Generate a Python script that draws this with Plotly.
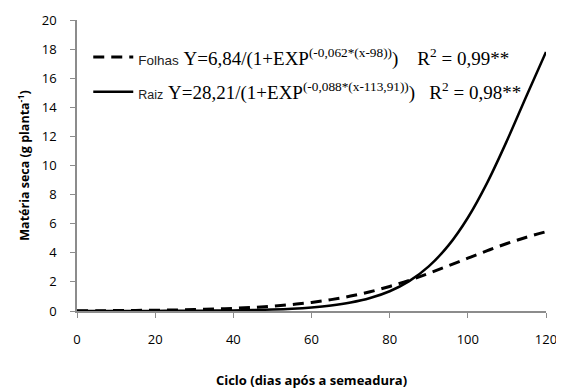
import plotly.graph_objects as go

dias = [0, 5, 10, 15, 20, 25, 30, 35, 40, 45, 50, 55, 60, 65, 70, 75, 80, 85, 90, 95, 100, 105, 110, 115, 120]
folhas = [0.016, 0.021, 0.029, 0.040, 0.054, 0.073, 0.100, 0.135, 0.183, 0.247, 0.332, 0.445, 0.592, 0.783, 1.025,
          1.325, 1.688, 2.112, 2.589, 3.103, 3.632, 4.150, 4.637, 5.072, 5.448]
raiz = [0.001, 0.002, 0.003, 0.005, 0.007, 0.011, 0.018, 0.027, 0.042, 0.066, 0.102, 0.157, 0.243, 0.376, 0.580,
        0.890, 1.358, 2.054, 3.067, 4.491, 6.410, 8.843, 11.70, 14.78, 17.80]

NB = "\u00a0"
lab_folhas = ("<span style='font-family:Liberation Sans;font-size:13.5px;color:#222'>Folhas</span>" + NB +
              "Y=6,84/(1+EXP<sup>(-0,062*(x-98))</sup>)" + NB * 4 + "R<sup>2</sup> = 0,99**")
lab_raiz = ("<span style='font-family:Liberation Sans;font-size:12.5px;color:#222'>Raiz</span>" + NB +
            "Y=28,21/(1+EXP<sup>(-0,088*(x-113,91))</sup>)" + NB * 3 + "R<sup>2</sup> = 0,98**")

fig = go.Figure()
fig.add_trace(go.Scatter(x=dias, y=folhas, mode="lines", name=lab_folhas, legend="legend",
                         line=dict(color="black", width=3, dash="11px,7px", shape="spline")))
fig.add_trace(go.Scatter(x=dias, y=raiz, mode="lines", name=lab_raiz, legend="legend2",
                         line=dict(color="black", width=2.5, shape="spline")))

leg_common = dict(bgcolor="rgba(0,0,0,0)", borderwidth=0, xanchor="left", yanchor="middle",
                  font=dict(family="Liberation Serif", size=19, color="black"), itemwidth=40)

fig.update_layout(
    width=556, height=382,
    margin=dict(l=69, r=18, t=12, b=79),
    paper_bgcolor="white", plot_bgcolor="white",
    showlegend=True,
    legend=dict(x=0.024, y=0.872, **leg_common),
    legend2=dict(x=0.024, y=0.753, **leg_common),
    xaxis=dict(range=[0, 120], tickvals=[0, 20, 40, 60, 80, 100, 120], showgrid=False, zeroline=False,
               showline=True, linecolor="#8c8c8c", linewidth=1.5, ticks="outside", ticklen=5, tickcolor="#8c8c8c",
               tickfont=dict(family="Open Sans", size=13, color="black"), ticklabelstandoff=11, automargin=False,
               title=dict(text="<b>Ciclo (dias após a semeadura)</b>", font=dict(family="Open Sans", size=13, color="black"),
                          standoff=29)),
    yaxis=dict(range=[0, 20], tickvals=list(range(0, 21, 2)), showgrid=False, zeroline=False,
               showline=True, linecolor="#8c8c8c", linewidth=1.5, ticks="outside", ticklen=5, tickcolor="#8c8c8c",
               tickfont=dict(family="Open Sans", size=13, color="black"), ticklabelstandoff=11, automargin=False,
               title=dict(text="<b>Matéria seca (g planta<sup>-1</sup>)</b>", font=dict(family="Open Sans", size=12.5, color="black"),
                          standoff=9)),
)
fig.write_html("out.html")
